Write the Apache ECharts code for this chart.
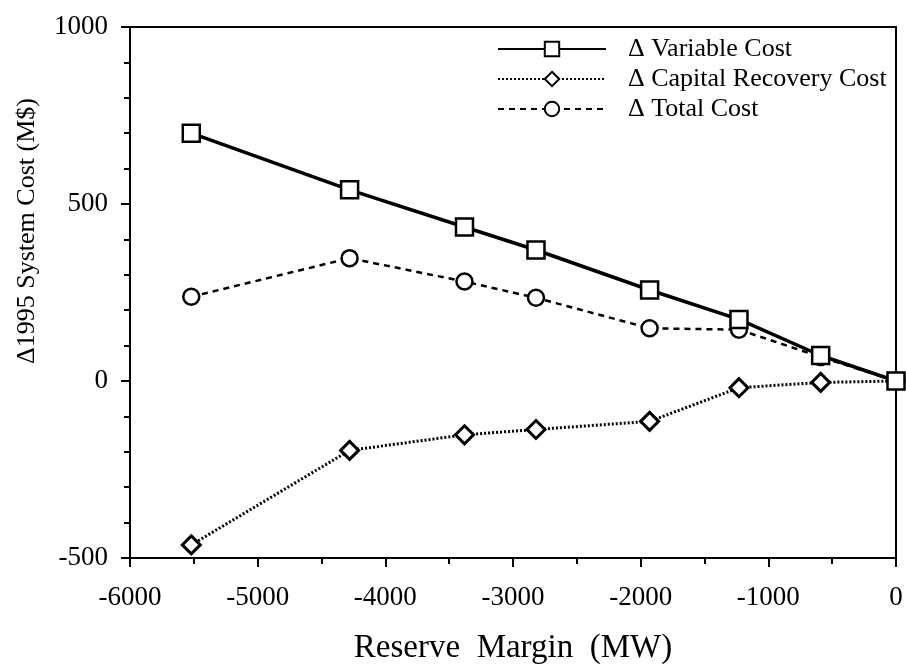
<!DOCTYPE html>
<html>
<head>
<meta charset="utf-8">
<script src="https://cdn.jsdelivr.net/npm/echarts@6/dist/echarts.min.js"></script>
<style>html,body{margin:0;padding:0;background:#fff;}#c{width:906px;height:666px;}</style>
</head>
<body>
<div id="c"></div>
<script>
// Data
var reserveMargin = [-5520, -4280, -3380, -2820, -1930, -1230, -590, 0];
var variableCost  = [700, 540, 435, 370, 257, 174, 72, 0];
var capitalCost   = [-463, -196, -152, -137, -114, -19, -4, 0];
var totalCost     = [238, 347, 281, 235, 149, 145, 68, 0];
var seriesNames = ['\u0394 Variable Cost', '\u0394 Capital Recovery Cost', '\u0394 Total Cost'];
var xTitle = 'Reserve  Margin  (MW)';
var yTitle = '\u03941995 System Cost (M$)';

function pairs(xs, ys) { return xs.map(function (x, i) { return [x, ys[i]]; }); }
function plain(v) { return String(v); }

var FONT = 'Liberation Serif';
var chart = echarts.init(document.getElementById('c'), null, {renderer: 'canvas'});
var markerStyle = {color: '#fff', borderColor: '#000', borderWidth: 2.5};

chart.setOption({
  animation: false,
  backgroundColor: '#fff',
  textStyle: {fontFamily: FONT, color: '#000'},
  grid: {left: 130, right: 10, top: 27, bottom: 108, containLabel: false, outerBoundsMode: 'none',
         show: true, borderColor: '#000', borderWidth: 2, backgroundColor: 'transparent'},
  legend: {
    orient: 'vertical', left: 492, top: 31,
    itemWidth: 108, itemHeight: 18, itemGap: 4,
    data: seriesNames,
    textStyle: {fontFamily: FONT, fontSize: 26, color: '#000', padding: [0, 0, 0, 17]}
  },
  xAxis: {
    type: 'value', min: -6000, max: 0, interval: 1000,
    name: xTitle, nameLocation: 'middle', nameGap: 74,
    nameTextStyle: {fontFamily: FONT, fontSize: 33, color: '#000'},
    axisLine: {show: true, onZero: false, lineStyle: {color: '#000', width: 2}},
    axisTick: {show: true, inside: false, length: 9, lineStyle: {color: '#000', width: 2}},
    minorTick: {show: true, splitNumber: 2, length: 6, lineStyle: {color: '#000', width: 2}},
    axisLabel: {fontFamily: FONT, fontSize: 27, color: '#000', margin: 26, formatter: plain},
    splitLine: {show: false}
  },
  yAxis: {
    type: 'value', min: -500, max: 1000, interval: 500,
    axisLine: {show: true, onZero: false, lineStyle: {color: '#000', width: 2}},
    axisTick: {show: true, inside: false, length: 9, lineStyle: {color: '#000', width: 2}},
    minorTick: {show: true, splitNumber: 5, length: 6, lineStyle: {color: '#000', width: 2}},
    axisLabel: {fontFamily: FONT, fontSize: 27, color: '#000', margin: 22, formatter: plain},
    splitLine: {show: false}
  },
  graphic: [{
    type: 'text',
    x: 27, y: 231, rotation: Math.PI / 2,
    style: {text: yTitle, fontFamily: FONT, fontSize: 26, fill: '#000', align: 'center', verticalAlign: 'middle'}
  }],
  series: [
    {
      name: seriesNames[1], type: 'line', z: 2, data: pairs(reserveMargin, capitalCost),
      symbol: 'diamond', symbolSize: 18, showAllSymbol: true,
      lineStyle: {color: '#000', width: 3, type: [2, 2]},
      itemStyle: {color: '#fff', borderColor: '#000', borderWidth: 3}
    },
    {
      name: seriesNames[2], type: 'line', z: 3, data: pairs(reserveMargin, totalCost),
      symbol: 'circle', symbolSize: 16, showAllSymbol: true,
      lineStyle: {color: '#000', width: 2.5, type: [6, 5]},
      itemStyle: markerStyle
    },
    {
      name: seriesNames[0], type: 'line', z: 4, data: pairs(reserveMargin, variableCost),
      symbol: 'rect', symbolSize: 17, showAllSymbol: true,
      lineStyle: {color: '#000', width: 3.5, type: 'solid'},
      itemStyle: markerStyle
    }
  ]
});
</script>
</body>
</html>
